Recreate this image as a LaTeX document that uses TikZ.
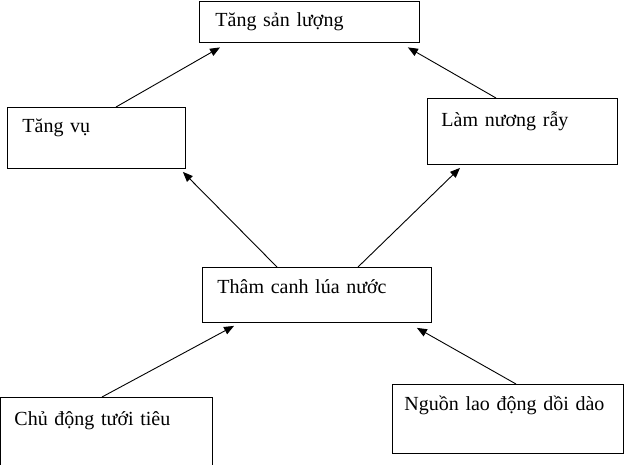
\documentclass[tikz,border=0pt]{standalone}
\usepackage{fontspec}
\setmainfont{Liberation Serif}
\usepackage{tikz}
\usetikzlibrary{arrows.meta,calc}

\begin{document}
\begin{tikzpicture}[x=1pt,y=-1pt,
	box/.style={draw,line width=0.9pt,anchor=north west,inner ysep=0pt,inner xsep=#1,align=left,text height=26pt,font=\fontsize{20}{24}\selectfont},
	box/.default=15pt,
	arr/.style={-{Triangle[length=10pt,width=8pt]},line width=0.9pt}]
\useasboundingbox (0,0) rectangle (624,464);
\node [box=16pt,text width=188pt,text depth=15pt] (a) at (199,0.5) {Tăng sản lượng};
\node [box,text width=148pt,text height=25pt,text depth=36pt] (b) at (7,107) {Tăng vụ};
\node [box=14pt,text width=162pt,text height=28pt,text depth=38pt] (c) at (427,98) {Làm nương rẫy};
\node [box,text width=199pt,text depth=29pt] (d) at (202,267) {Thâm canh lúa nước};
\node [box=14pt,text width=184pt,text height=28pt,text depth=42pt] (e) at (0,397) {Chủ động tưới tiêu};
\node [box=12pt,text width=207pt,text depth=43pt] (f) at (392,384) {Nguồn lao động dồi dào};

\draw [arr] ($(b.north west)+(109,0)$) -- ($(a.south west)+(21,5)$);
\draw [arr] ($(c.north west)+(69,0)$) -- ($(a.south east)+(-12,5)$);
\draw [arr] ($(d.north west)+(75,0)$) -- ($(b.south east)+(-3,3)$);
\draw [arr] ($(d.north west)+(156,0)$) -- ($(c.south west)+(33,3)$);
\draw [arr] ($(e.north west)+(102,0)$) -- ($(d.south west)+(32,3)$);
\draw [arr] ($(f.north west)+(124,0)$) -- ($(d.south east)+(-15,5)$);
\end{tikzpicture}
\end{document}
